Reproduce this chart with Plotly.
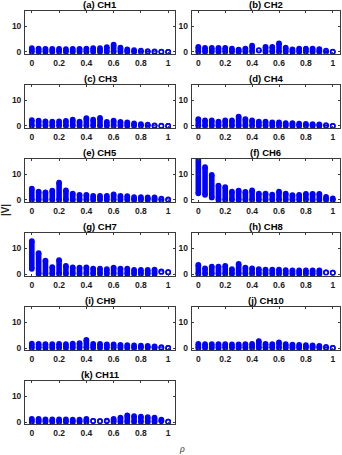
import plotly.graph_objects as go

rho = [round(i * 0.05, 2) for i in range(21)]

titles = ["(a) CH1", "(b) CH2", "(c) CH3", "(d) CH4", "(e) CH5", "(f) CH6",
          "(g) CH7", "(h) CH8", "(i) CH9", "(j) CH10", "(k) CH11"]

# lower / upper ends of the |V| spread at each rho (marker centres)
ch1_hi = [1.4, 1.3, 1.2, 1.2, 1.2, 1.1, 1.2, 1.2, 1.3, 1.4, 1.4, 1.8, 2.8, 1.6, 1.0, 0.7, 0.5, 0.3, 0.2, 0.1, 0.0]
ch1_lo = [0.0] * 21
ch2_hi = [1.9, 1.5, 1.5, 1.5, 1.5, 1.3, 0.9, 1.3, 2.4, 0.7, 1.9, 1.9, 3.3, 1.6, 1.0, 1.3, 1.3, 1.3, 1.1, 0.5, 0.1]
ch2_lo = [0.0] * 9 + [0.5] + [0.0] * 11
ch3_hi = [2.2, 2.0, 1.7, 1.6, 1.7, 1.9, 2.4, 1.6, 3.0, 2.4, 3.1, 1.5, 2.0, 1.5, 1.4, 1.0, 0.7, 0.5, 0.2, 0.1, 0.0]
ch3_lo = [0.0] * 21
ch4_hi = [2.6, 2.1, 2.1, 1.6, 2.1, 2.1, 3.6, 2.6, 2.1, 1.6, 1.6, 1.4, 1.4, 1.1, 1.1, 0.9, 0.8, 0.7, 0.6, 0.3, 0.0]
ch4_lo = [0.0] * 21
ch5_hi = [4.4, 3.2, 2.9, 3.6, 6.7, 3.7, 2.5, 2.0, 2.0, 1.6, 1.6, 1.6, 2.2, 1.6, 1.5, 1.1, 1.1, 1.0, 1.0, 0.5, 0.2]
ch5_lo = [0.0] * 21
ch6_hi = [16.5, 12.7, 9.7, 5.6, 5.0, 3.2, 3.6, 3.1, 3.7, 2.5, 2.5, 2.1, 3.2, 2.5, 1.9, 2.0, 2.4, 2.4, 2.4, 1.2, 0.6]
ch6_lo = [2.6, 2.0, 1.0] + [0.0] * 18
ch7_hi = [12.7, 8.1, 5.2, 2.7, 5.4, 3.1, 2.6, 2.5, 2.6, 2.1, 2.1, 1.9, 2.5, 2.1, 2.1, 1.6, 1.6, 1.6, 1.7, 1.0, 0.7]
ch7_lo = [2.0] + [0.0] * 18 + [0.8, 0.7]
ch8_hi = [3.5, 2.2, 2.9, 2.9, 3.1, 1.9, 3.9, 2.5, 2.2, 1.9, 1.7, 1.7, 1.7, 1.5, 1.4, 1.4, 1.4, 1.4, 1.4, 0.6, 0.5]
ch8_lo = [0.0] * 19 + [0.6, 0.5]
ch9_hi = [1.7, 1.6, 1.5, 1.5, 1.6, 1.5, 1.7, 1.9, 3.1, 1.6, 1.6, 1.4, 1.4, 1.2, 1.1, 1.0, 0.9, 0.8, 0.6, 0.3, 0.0]
ch9_lo = [0.0] * 21
ch10_hi = [1.6, 1.5, 1.5, 1.5, 1.5, 1.4, 1.4, 1.5, 1.6, 2.7, 1.6, 1.5, 2.2, 1.5, 1.3, 1.2, 1.1, 1.0, 0.8, 0.4, 0.0]
ch10_lo = [0.0] * 21
ch11_hi = [1.2, 1.2, 1.0, 1.0, 1.0, 1.0, 0.9, 0.9, 1.2, 0.4, 0.3, 0.5, 1.2, 1.7, 2.6, 2.3, 2.1, 1.9, 1.7, 0.9, 0.1]
ch11_lo = [0.0] * 9 + [0.4, 0.3, 0.3] + [0.0] * 7 + [0.3, 0.1]

his = [ch1_hi, ch2_hi, ch3_hi, ch4_hi, ch5_hi, ch6_hi, ch7_hi, ch8_hi, ch9_hi, ch10_hi, ch11_hi]
los = [ch1_lo, ch2_lo, ch3_lo, ch4_lo, ch5_lo, ch6_lo, ch7_lo, ch8_lo, ch9_lo, ch10_lo, ch11_lo]

W, H = 342, 455
col_x = [(25.0 / W, 175.0 / W), (191.6 / W, 339.5 / W)]
row_top = [10.7, 85.2, 159.8, 234.3, 308.8, 383.3]
ph = 43.6

fig = go.Figure()
font_b = dict(family="Liberation Sans, Arial, sans-serif", size=8.5, color="#1a1a1a", weight="bold")
axcol = "#3a3a3a"
blue = "#0000ff"
layout = {}
annotations = []
for k in range(11):
    r, c = divmod(k, 2)
    n = "" if k == 0 else str(k + 1)
    xs, ys = [], []
    mx, my, msym = [], [], []
    for x, lo, hi in zip(rho, los[k], his[k]):
        xs += [x, x, None]
        ys += [lo, hi, None]
        solid = (hi - lo) >= 0.6
        mx += [x, x]
        my += [lo, hi]
        msym += ["circle" if solid else "circle-open"] * 2
    fig.add_trace(go.Scatter(
        x=xs, y=ys, mode="lines", xaxis="x" + n, yaxis="y" + n,
        line=dict(color=blue, width=5.6),
        showlegend=False, hoverinfo="skip", connectgaps=False))
    fig.add_trace(go.Scatter(
        x=mx, y=my, mode="markers", xaxis="x" + n, yaxis="y" + n,
        marker=dict(symbol=msym, size=4.4, color=blue, line=dict(width=1.4, color=blue)),
        showlegend=False, hoverinfo="skip"))
    top = row_top[r]
    y1 = 1 - top / H
    y0 = 1 - (top + ph) / H
    layout["xaxis" + n] = dict(
        domain=list(col_x[c]), range=[-0.05, 1.05], anchor="y" + n,
        tickvals=[0, 0.2, 0.4, 0.6, 0.8, 1], ticktext=["0", "0.2", "0.4", "0.6", "0.8", "1"],
        ticks="inside", ticklen=2, tickcolor=axcol, tickwidth=0.8,
        showline=True, linecolor=axcol, linewidth=0.9, mirror="ticks",
        showgrid=False, zeroline=False, tickfont=font_b, ticklabelstandoff=1)
    layout["yaxis" + n] = dict(
        domain=[y0, y1], range=[-0.8, 16], anchor="x" + n,
        tickvals=[0, 10], ticks="inside", ticklen=2, tickcolor=axcol, tickwidth=0.8,
        showline=True, linecolor=axcol, linewidth=0.9, mirror="ticks",
        showgrid=False, zeroline=False, tickfont=font_b, ticklabelstandoff=1)
    annotations.append(dict(
        text=titles[k], x=(col_x[c][0] + col_x[c][1]) / 2, y=1 - (top - 6.5) / H,
        xref="paper", yref="paper", xanchor="center", yanchor="middle", showarrow=False,
        font=dict(family="Liberation Sans, Arial, sans-serif", size=9.5, color="#000000", weight="bold")))

annotations.append(dict(text="|V|", x=5.5 / W, y=1 - 212 / H, xref="paper", yref="paper",
                        textangle=-90, showarrow=False, xanchor="center", yanchor="middle",
                        font=dict(family="Liberation Sans, Arial, sans-serif", size=10, color="#262626", weight="bold")))
annotations.append(dict(text="<i>ρ</i>", x=182 / W, y=1 - 451 / H, xref="paper", yref="paper",
                        showarrow=False, xanchor="center", yanchor="middle",
                        font=dict(family="Liberation Serif, serif", size=10, color="#404040")))

fig.update_layout(width=W, height=H, margin=dict(l=0, r=0, t=0, b=0),
                  paper_bgcolor="white", plot_bgcolor="white",
                  annotations=annotations, **layout)
fig.write_html("out.html")
